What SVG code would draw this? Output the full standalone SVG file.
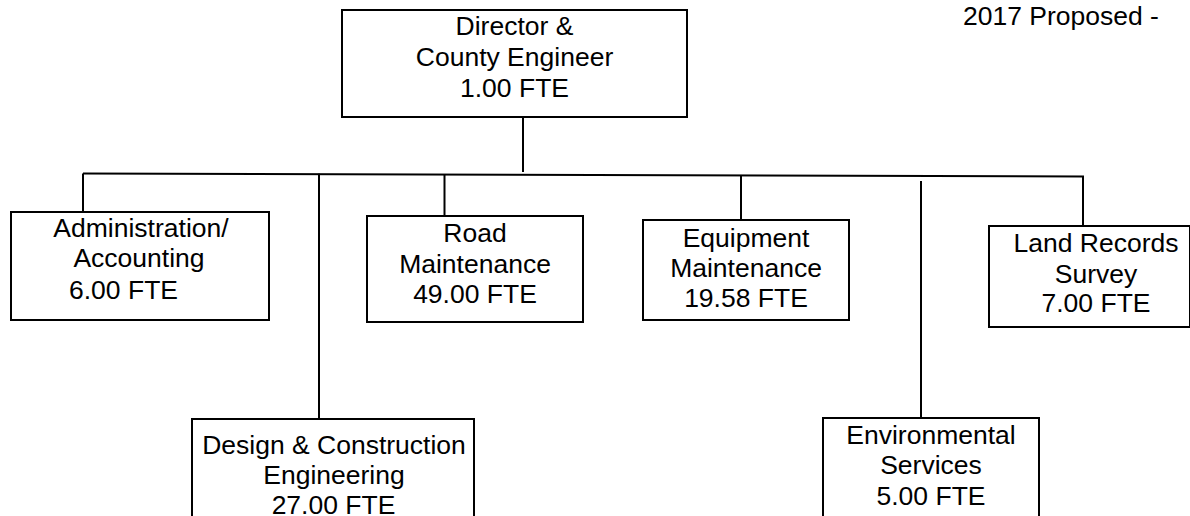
<svg xmlns="http://www.w3.org/2000/svg" width="1190" height="516" viewBox="0 0 1190 516">
<style>
.box{fill:#fff;stroke:#000;stroke-width:2}
.ln{stroke:#000;stroke-width:2;fill:none}
text{font-family:"Liberation Sans",Arial,sans-serif;font-size:26.5px;fill:#000;text-anchor:middle}
</style>
<rect width="1190" height="516" fill="#fff"/>
<text x="963" y="25" style="text-anchor:start">2017 Proposed -</text>
<g id="connectors">
<line class="ln" x1="523" y1="117" x2="523" y2="172"/>
<line class="ln" x1="83" y1="173.5" x2="1084" y2="176.5"/>
<line class="ln" x1="83" y1="173.5" x2="83" y2="212"/>
<line class="ln" x1="319" y1="173.7" x2="319" y2="419"/>
<line class="ln" x1="444.5" y1="174.6" x2="444.5" y2="216"/>
<line class="ln" x1="741" y1="175.5" x2="741" y2="220"/>
<line class="ln" x1="921" y1="181" x2="921" y2="418"/>
<line class="ln" x1="1083" y1="176" x2="1083" y2="226"/>
</g>
<g id="director">
<rect class="box" x="342" y="10" width="345" height="107"/>
<text x="514.5" y="35">Director &amp;</text>
<text x="514.5" y="65.5">County Engineer</text>
<text x="514.5" y="96.5">1.00 FTE</text>
</g>
<g id="admin">
<rect class="box" x="11" y="212" width="258" height="108"/>
<text x="141" y="236.5">Administration/</text>
<text x="139" y="267">Accounting</text>
<text x="123.5" y="299">6.00 FTE</text>
</g>
<g id="road">
<rect class="box" x="367" y="216" width="216" height="106"/>
<text x="475" y="242">Road</text>
<text x="475" y="273">Maintenance</text>
<text x="475" y="303">49.00 FTE</text>
</g>
<g id="equipment">
<rect class="box" x="643" y="220" width="206" height="100"/>
<text x="746" y="247">Equipment</text>
<text x="746" y="277">Maintenance</text>
<text x="746" y="307">19.58 FTE</text>
</g>
<g id="land">
<rect class="box" x="989" y="226" width="201" height="101"/>
<text x="1096" y="252">Land Records</text>
<text x="1096" y="283">Survey</text>
<text x="1096" y="312">7.00 FTE</text>
</g>
<g id="design">
<rect class="box" x="192" y="419" width="282" height="110"/>
<text x="334" y="453.5">Design &amp; Construction</text>
<text x="334" y="483.5">Engineering</text>
<text x="333.5" y="513.5">27.00 FTE</text>
</g>
<g id="environmental">
<rect class="box" x="823" y="418" width="216" height="110"/>
<text x="931" y="443.5">Environmental</text>
<text x="931" y="474">Services</text>
<text x="931" y="505">5.00 FTE</text>
</g>
</svg>
